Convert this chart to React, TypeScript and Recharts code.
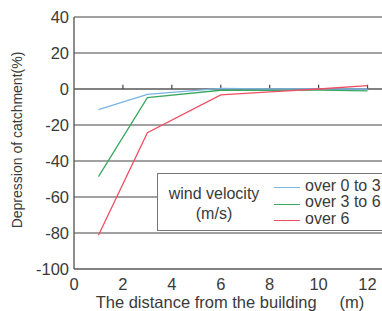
import React from 'react';
import {
  LineChart,
  Line,
  XAxis,
  YAxis,
  CartesianGrid,
  Legend,
  ReferenceLine
} from 'recharts';

const distances = [1, 3, 6, 8, 10, 12];
const velocity0to3 = [-11.5, -3, 0.3, 0, 0, 0];
const velocity3to6 = [-48.7, -4.8, -0.7, -0.8, -0.6, -1];
const velocityOver6 = [-81.3, -24.3, -3.3, -1.6, 0, 1.9];

const xTicks = [0, 2, 4, 6, 8, 10, 12];
const yTicks = [40, 20, 0, -20, -40, -60, -80, -100];
const seriesNames = ['over 0 to 3', 'over 3 to 6', 'over 6'];
const legendTitle = ['wind velocity', '(m/s)'];

const data = distances.map((x, i) => ({
  x,
  a: velocity0to3[i],
  b: velocity3to6[i],
  c: velocityOver6[i]
}));

const FONT = '"Liberation Sans", Arial, sans-serif';
const TEXT = '#3a3a3a';

const LegendBox = (props: any) => {
  const payload = props.payload || [];
  const rows = [19, 35, 52];
  const lines = [14, 31, 47];
  return (
    <div
      style={{
        position: 'relative',
        width: 240,
        height: 58,
        boxSizing: 'border-box',
        border: '1.5px solid #777',
        background: '#fff',
        fontFamily: FONT,
        fontSize: 16,
        lineHeight: '16px',
        color: TEXT
      }}
    >
      {legendTitle.map((t, i) => (
        <div
          key={t}
          style={{ position: 'absolute', left: 0, width: 112, textAlign: 'center', top: i === 0 ? 12 : 32 }}
        >
          {t}
        </div>
      ))}
      {payload.map((p: any, i: number) => (
        <React.Fragment key={p.value}>
          <div
            style={{
              position: 'absolute',
              left: 116,
              top: lines[i] - 1.5,
              width: 26,
              height: 0,
              borderTop: `1.5px solid ${p.color}`
            }}
          />
          <div style={{ position: 'absolute', left: 147, top: rows[i] - 15, whiteSpace: 'nowrap' }}>
            {p.value}
          </div>
        </React.Fragment>
      ))}
    </div>
  );
};

export default function App() {
  return (
    <div style={{ position: 'absolute', left: 0, top: 0, width: 382, height: 311, overflow: 'hidden', background: '#fff' }}>
      <LineChart width={392} height={311} data={data} margin={{ top: 17, right: 0, bottom: 0, left: 0 }}>
        <CartesianGrid vertical={false} stroke="#444" strokeWidth={1.2} />
        <XAxis
          type="number"
          dataKey="x"
          domain={[0, 13]}
          ticks={xTicks}
          height={42}
          tickLine={false}
          tickSize={0}
          tickMargin={9}
          axisLine={{ stroke: '#777', strokeWidth: 1.5 }}
          tick={{ fill: TEXT, fontSize: 16.5, fontFamily: FONT }}
          label={{
            content: () => (
              <text
                x={230}
                y={308}
                textAnchor="middle"
                fill={TEXT}
                fontSize={16.5}
                fontFamily={FONT}
                style={{ whiteSpace: 'pre' }}
              >
                {'The distance from the building     (m)'}
              </text>
            )
          }}
        />
        <YAxis
          type="number"
          domain={[-100, 40]}
          ticks={yTicks}
          width={74}
          tickLine={false}
          tickSize={0}
          tickMargin={5}
          axisLine={{ stroke: '#666', strokeWidth: 1.5 }}
          tick={{ fill: TEXT, fontSize: 16.5, fontFamily: FONT }}
          label={{
            content: () => (
              <text
                x={22}
                y={140}
                transform="rotate(-90 22 140)"
                textAnchor="middle"
                fill={TEXT}
                fontSize={14}
                fontFamily={FONT}
              >
                Depression of catchment(%)
              </text>
            )
          }}
        />
        <ReferenceLine y={0} stroke="#777" strokeWidth={1.5} />
        {xTicks
          .filter((t) => t > 0)
          .map((t) => (
            <ReferenceLine
              key={t}
              segment={[
                { x: t, y: 0 },
                { x: t, y: 2.4 }
              ]}
              stroke="#444"
              strokeWidth={1.2}
            />
          ))}
        <Line dataKey="a" name={seriesNames[0]} stroke="#7ab4e2" strokeWidth={1.3} dot={false} isAnimationActive={false} />
        <Line dataKey="b" name={seriesNames[1]} stroke="#3aa862" strokeWidth={1.3} dot={false} isAnimationActive={false} />
        <Line dataKey="c" name={seriesNames[2]} stroke="#f04e64" strokeWidth={1.3} dot={false} isAnimationActive={false} />
        <Legend
          layout="horizontal"
          verticalAlign="middle"
          align="center"
          wrapperStyle={{ left: 157, top: 173, width: 240, height: 58 }}
          content={<LegendBox />}
        />
      </LineChart>
    </div>
  );
}
